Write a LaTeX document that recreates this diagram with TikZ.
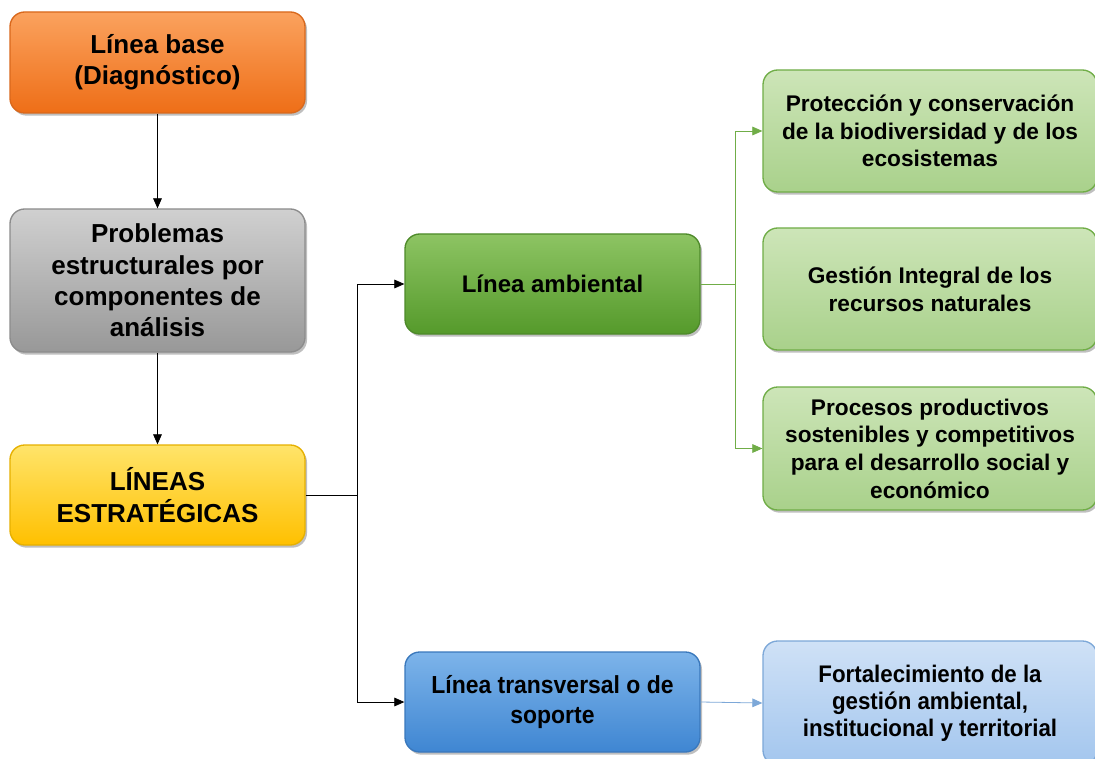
\documentclass[tikz,border=0pt]{standalone}
\usepackage{fontspec}
\setmainfont{Liberation Sans}
\newfontfamily\narrowfont[FakeStretch=0.93]{Liberation Sans}
\usetikzlibrary{arrows.meta,shadows}
\definecolor{orT}{HTML}{FBA25E}
\definecolor{orB}{HTML}{EE6E17}
\definecolor{orD}{HTML}{D9681C}
\definecolor{grT}{HTML}{D0D0D0}
\definecolor{grB}{HTML}{989898}
\definecolor{grD}{HTML}{8C8C8C}
\definecolor{yeT}{HTML}{FFE46A}
\definecolor{yeB}{HTML}{FFC000}
\definecolor{yeD}{HTML}{E6B000}
\definecolor{gnT}{HTML}{8DC463}
\definecolor{gnB}{HTML}{559A2B}
\definecolor{gnD}{HTML}{4E8A2A}
\definecolor{blT}{HTML}{7DB4EA}
\definecolor{blB}{HTML}{3F86D2}
\definecolor{blD}{HTML}{3A78BC}
\definecolor{lgT}{HTML}{CDE5B8}
\definecolor{lgB}{HTML}{A9D18B}
\definecolor{lgD}{HTML}{70AD47}
\definecolor{lbT}{HTML}{CFE1F6}
\definecolor{lbB}{HTML}{A3C6EE}
\definecolor{lbD}{HTML}{7DA8D8}
\tikzset{
  boxbase/.style={rounded corners=11pt, draw, line width=1pt, align=center,
    font=\bfseries, text=black,
    drop shadow={shadow xshift=1.5pt, shadow yshift=-2pt, opacity=0.5}},
  leftbox/.style={boxbase, minimum width=221.25pt, font=\bfseries\fontsize{19.5}{23.5}\selectfont},
  midbox/.style={boxbase, minimum width=221.25pt, minimum height=75pt},
  rightbox/.style={boxbase, minimum width=250.5pt, font=\bfseries\fontsize{17}{20.8}\selectfont},
  arr/.style={line width=0.6pt, -{Triangle[length=7.5pt,width=6.5pt]}},
  plain/.style={line width=0.6pt},
}
\begin{document}
\begin{tikzpicture}[x=0.75pt,y=-0.75pt]
\useasboundingbox[fill=white] (0,0) rectangle (1095,759);
% left column
\node[leftbox, minimum height=75.75pt, top color=orT, bottom color=orB, draw=orD] (base) at (157.5,62.5) {Línea base\\(Diagnóstico)};
\node[leftbox, minimum height=107.25pt, top color=grT, bottom color=grB, draw=grD] (prob) at (157.5,280.5) {Problemas\\estructurales por\\componentes de\\análisis};
\node[leftbox, minimum height=75pt, top color=yeT, bottom color=yeB, draw=yeD] (lin) at (157.5,495) {LÍNEAS\\ESTRATÉGICAS};
% middle column
\node[midbox, top color=gnT, bottom color=gnB, draw=gnD, font=\bfseries\fontsize{18}{22}\selectfont] (amb) at (552.5,284) {Línea ambiental};
\node[midbox, top color=blT, bottom color=blB, draw=blD, font=\narrowfont\bfseries\fontsize{18.5}{21.8}\selectfont] (tra) at (552.5,702) {Línea transversal o de\\soporte};
% right column
\node[rightbox, minimum height=91.5pt, top color=lgT, bottom color=lgB, draw=lgD] (p1) at (930,131) {Protección y conservación\\de la biodiversidad y de los\\ecosistemas};
\node[rightbox, minimum height=91.5pt, top color=lgT, bottom color=lgB, draw=lgD] (p2) at (930,289) {Gestión Integral de los\\recursos naturales};
\node[rightbox, minimum height=92.25pt, top color=lgT, bottom color=lgB, draw=lgD] (p3) at (930,448.5) {Procesos productivos\\sostenibles y competitivos\\para el desarrollo social y\\económico};
\node[rightbox, minimum height=93pt, top color=lbT, bottom color=lbB, draw=lbD, font=\narrowfont\bfseries\fontsize{18}{20.3}\selectfont] (p4) at (930,703) {Fortalecimiento de la\\gestión ambiental,\\institucional y territorial};
% connectors
\coordinate (j1) at (357,495);
\coordinate (j2) at (735,284);
\draw[arr] (base) -- (prob);
\draw[arr] (prob) -- (lin);
\draw[plain] (lin.east) -- (j1);
\draw[arr] (j1) |- (amb.west);
\draw[arr] (j1) |- (tra.west);
\draw[plain, draw=lgD] (amb.east) -- (j2);
\draw[arr, draw=lgD] (j2) |- (p1.west);
\draw[arr, draw=lgD] (j2) |- (p3.west);
\draw[arr, draw=lbD] (tra.east) -- (p4.west);
\end{tikzpicture}
\end{document}
